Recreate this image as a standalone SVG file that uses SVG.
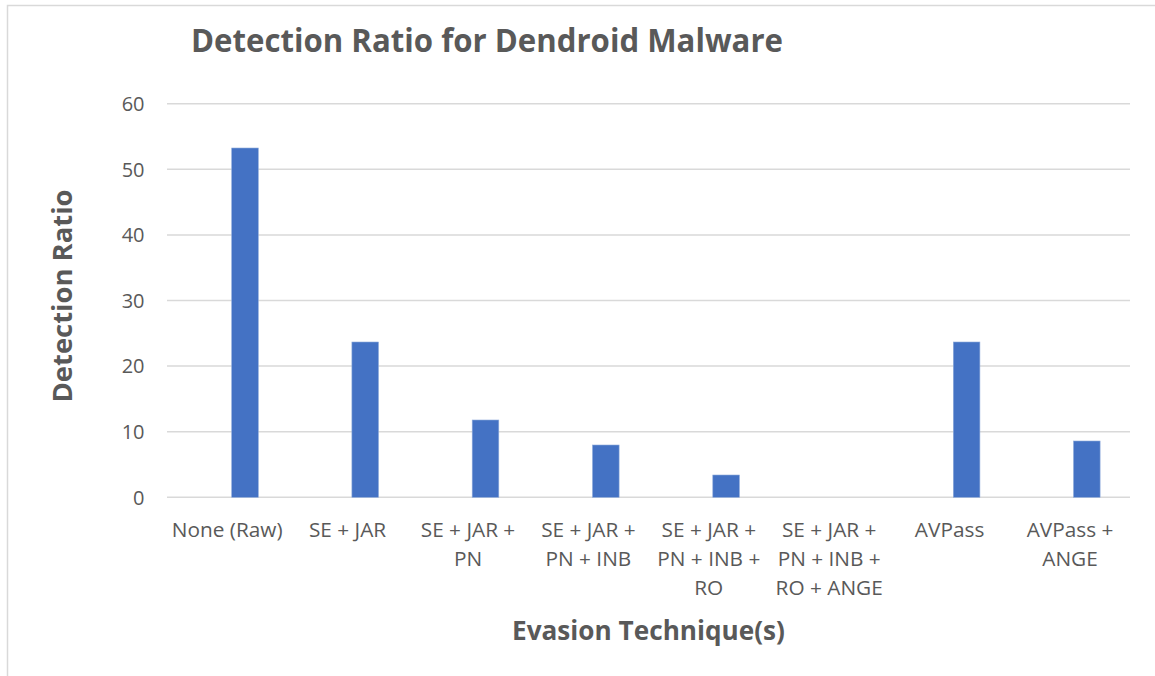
<svg xmlns="http://www.w3.org/2000/svg" width="1155" height="676" viewBox="0 0 1155 676">
  <style>
    .frame { stroke: #d9d9d9; stroke-width: 1.5; fill: none; }
    .grid { stroke: #d9d9d9; stroke-width: 1.5; }
    .bar { fill: #4472c4; stroke: #8eaadb; stroke-width: 0.6; }
    .tick { font-family: "Open Sans", "Liberation Sans", sans-serif; font-size: 20px; fill: #595959; }
    .ylab { text-anchor: end; }
    .xlab { text-anchor: middle; font-size: 20.8px; }
    .title { font-family: "Open Sans", "Liberation Sans", sans-serif; font-weight: bold; fill: #595959; }
  </style>

  <rect width="1155" height="676" fill="#ffffff"/>

  <!-- chart frame (top and left edges visible) -->
  <path class="frame" d="M7.5 676 V5.5 H1155"/>

  <!-- chart title -->
  <text class="title" x="191" y="51.5" font-size="32" textLength="592" lengthAdjust="spacingAndGlyphs">Detection Ratio for Dendroid Malware</text>

  <!-- horizontal gridlines, 10 units = 65.6 px, zero at y=497.3 -->
  <g id="gridlines">
    <line class="grid" x1="167" y1="103.7" x2="1130" y2="103.7"/>
    <line class="grid" x1="167" y1="169.3" x2="1130" y2="169.3"/>
    <line class="grid" x1="167" y1="234.9" x2="1130" y2="234.9"/>
    <line class="grid" x1="167" y1="300.5" x2="1130" y2="300.5"/>
    <line class="grid" x1="167" y1="366.1" x2="1130" y2="366.1"/>
    <line class="grid" x1="167" y1="431.7" x2="1130" y2="431.7"/>
    <line class="grid" x1="167" y1="497.3" x2="1130" y2="497.3"/>
  </g>

  <!-- value axis labels -->
  <g id="y-axis">
    <text class="tick ylab" x="144.5" y="111">60</text>
    <text class="tick ylab" x="144.5" y="176.6">50</text>
    <text class="tick ylab" x="144.5" y="242.2">40</text>
    <text class="tick ylab" x="144.5" y="307.8">30</text>
    <text class="tick ylab" x="144.5" y="373.4">20</text>
    <text class="tick ylab" x="144.5" y="439">10</text>
    <text class="tick ylab" x="144.5" y="504.6">0</text>
  </g>

  <text class="title" transform="translate(72 296) rotate(-90)" x="0" y="0" font-size="26.5" text-anchor="middle" textLength="213" lengthAdjust="spacingAndGlyphs">Detection Ratio</text>

  <!-- bars -->
  <g id="bar-none-raw"><rect class="bar" x="231.7" y="148" width="26.6" height="349.3"/></g>
  <g id="bar-se-jar"><rect class="bar" x="351.9" y="342" width="26.6" height="155.3"/></g>
  <g id="bar-se-jar-pn"><rect class="bar" x="472.2" y="420" width="26.6" height="77.3"/></g>
  <g id="bar-se-jar-pn-inb"><rect class="bar" x="592.5" y="445" width="26.6" height="52.3"/></g>
  <g id="bar-se-jar-pn-inb-ro"><rect class="bar" x="712.8" y="475" width="26.6" height="22.3"/></g>
  <g id="bar-avpass"><rect class="bar" x="953.3" y="342" width="26.6" height="155.3"/></g>
  <g id="bar-avpass-ange"><rect class="bar" x="1073.5" y="441" width="26.6" height="56.3"/></g>

  <!-- category labels -->
  <g id="x-axis">
    <text class="tick xlab" x="227.2" y="536.5">None (Raw)</text>
    <text class="tick xlab" x="347.6" y="536.5">SE + JAR</text>
    <text class="tick xlab" x="468" y="536.5">SE + JAR +<tspan x="468" dy="29">PN</tspan></text>
    <text class="tick xlab" x="588.4" y="536.5">SE + JAR +<tspan x="588.4" dy="29">PN + INB</tspan></text>
    <text class="tick xlab" x="708.8" y="536.5">SE + JAR +<tspan x="708.8" dy="29">PN + INB +</tspan><tspan x="708.8" dy="29">RO</tspan></text>
    <text class="tick xlab" x="829.2" y="536.5">SE + JAR +<tspan x="829.2" dy="29">PN + INB +</tspan><tspan x="829.2" dy="29">RO + ANGE</tspan></text>
    <text class="tick xlab" x="949.6" y="536.5">AVPass</text>
    <text class="tick xlab" x="1070" y="536.5">AVPass +<tspan x="1070" dy="29">ANGE</tspan></text>
  </g>

  <text class="title" x="648.5" y="639.5" font-size="26.5" text-anchor="middle" textLength="273" lengthAdjust="spacingAndGlyphs">Evasion Technique(s)</text>
</svg>
